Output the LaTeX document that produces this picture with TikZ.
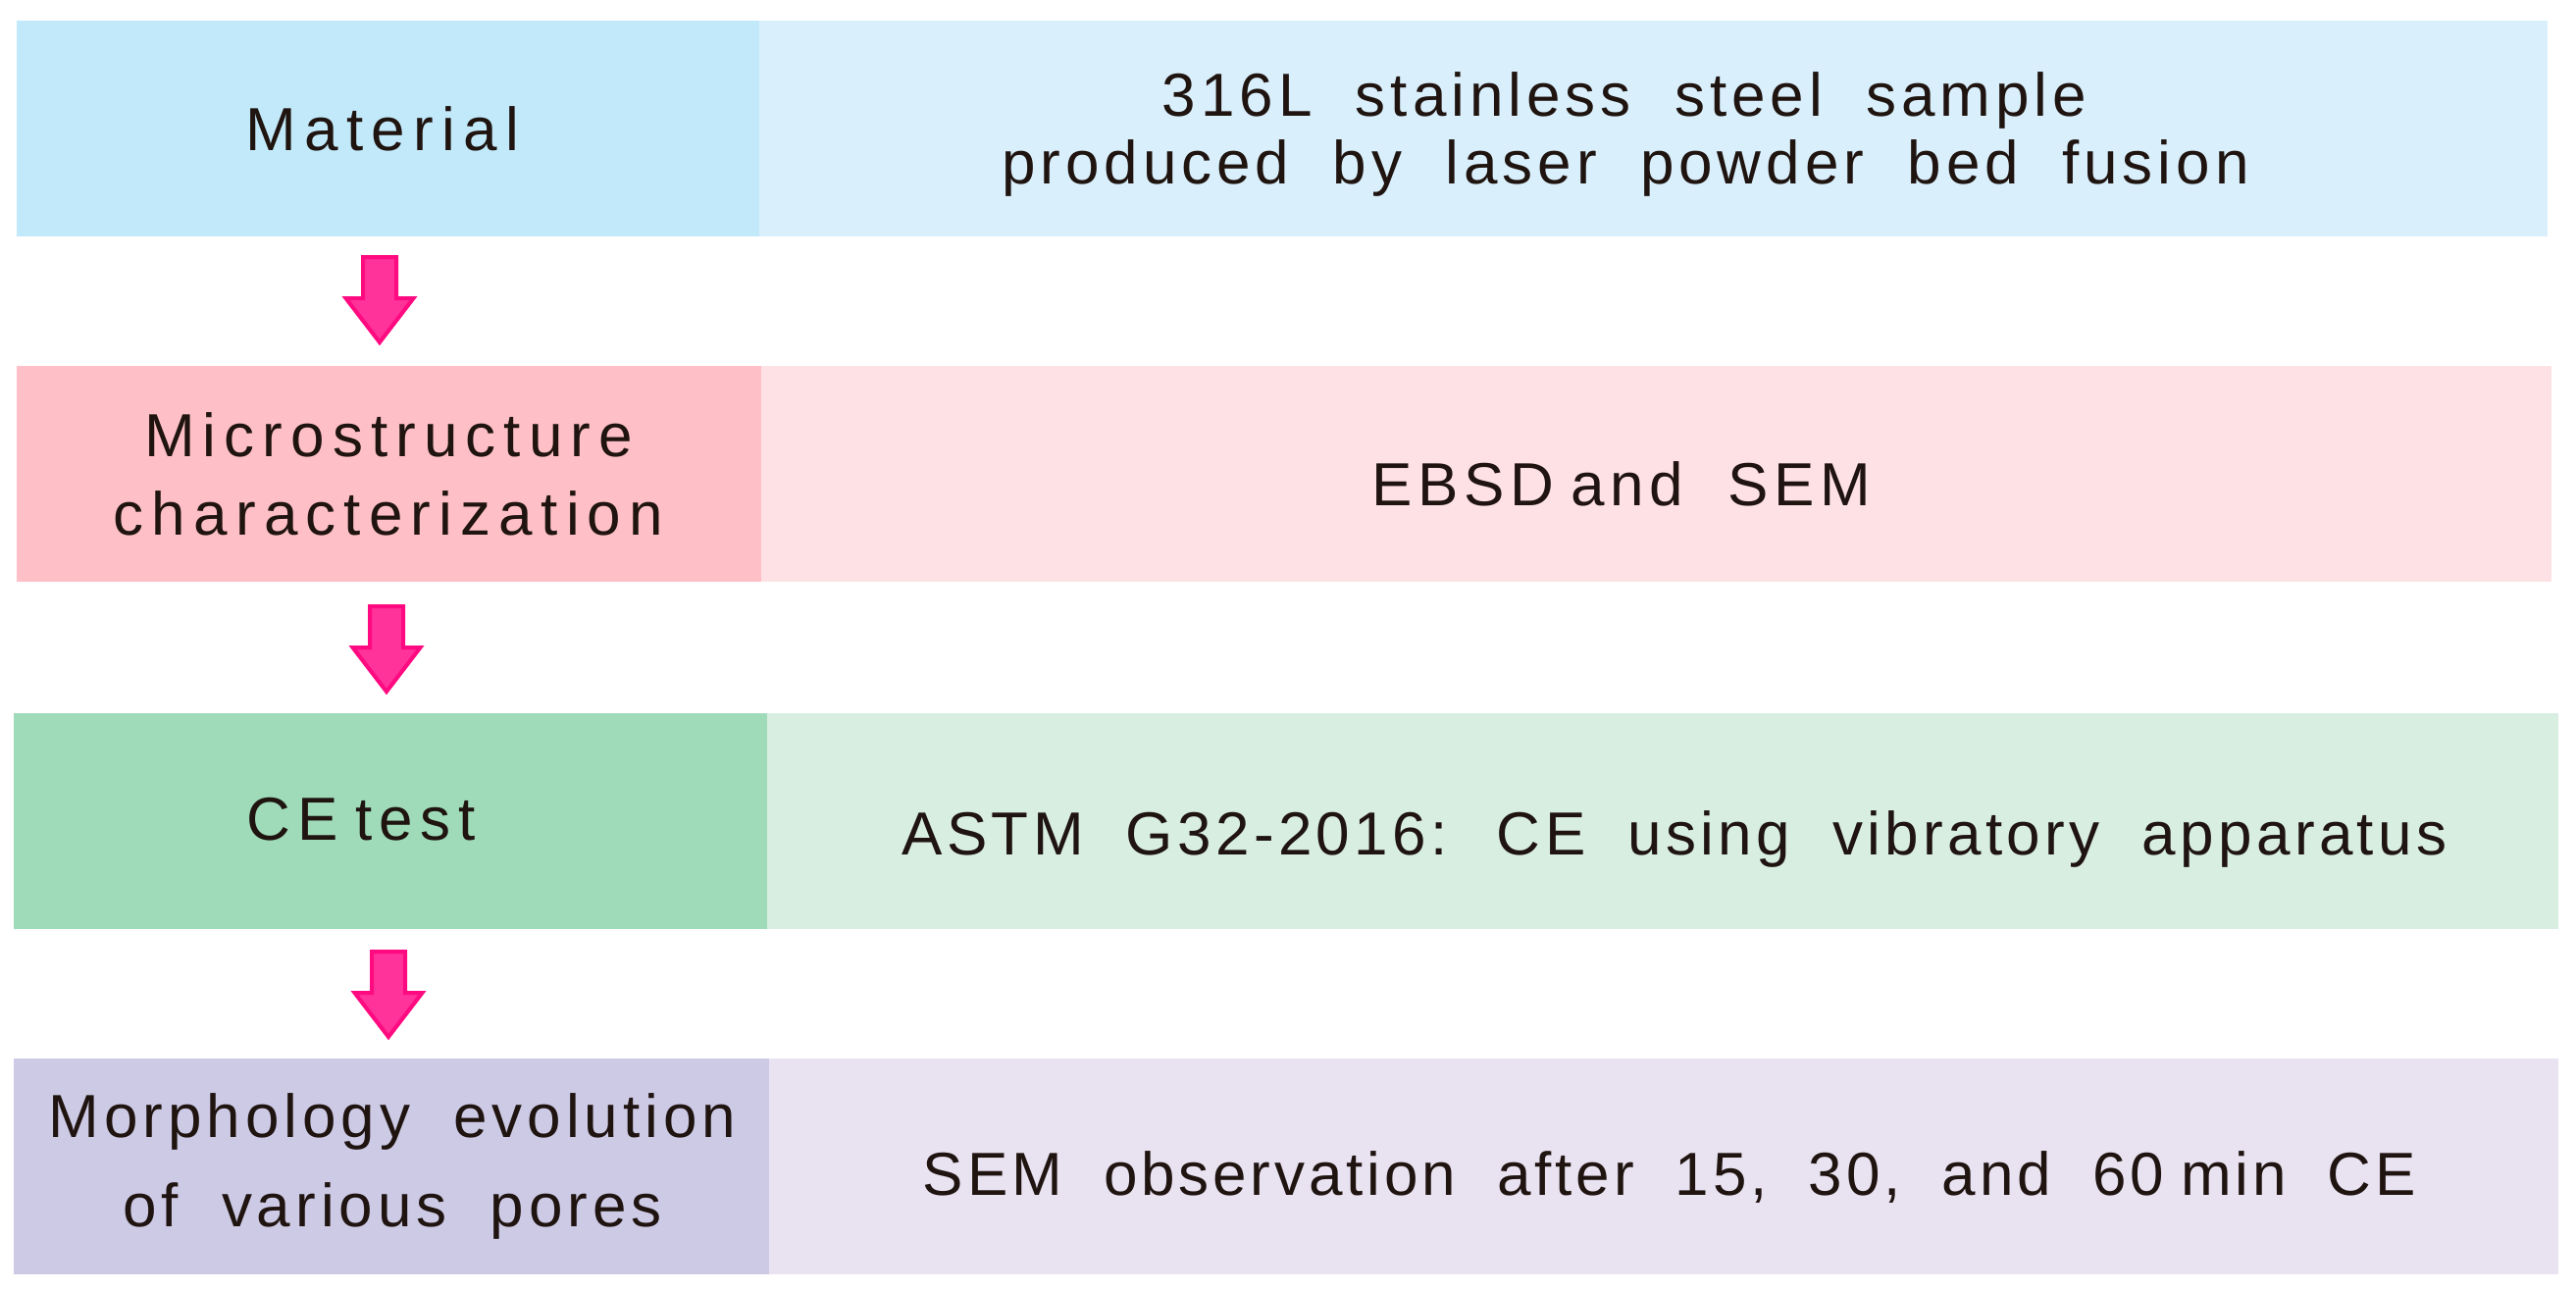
\documentclass[tikz,border=0pt]{standalone}
\usepackage{fontspec}
\setmainfont{Liberation Sans}[LetterSpace=8,WordSpace=2]
\usetikzlibrary{calc}
\definecolor{ink}{HTML}{1F1410}
\definecolor{blueL}{HTML}{C1E9F9}
\definecolor{blueR}{HTML}{D9EFFB}
\definecolor{pinkL}{HTML}{FEC0C6}
\definecolor{pinkR}{HTML}{FEE1E4}
\definecolor{greenL}{HTML}{9FDBB9}
\definecolor{greenR}{HTML}{D8EEE0}
\definecolor{lilacL}{HTML}{CDCAE6}
\definecolor{lilacR}{HTML}{E8E2F1}
\definecolor{arrowfill}{HTML}{FF3399}
\definecolor{arrowline}{HTML}{FF0A80}
\newcommand\ns{\hspace{0.28em}}
\begin{document}
\begin{tikzpicture}[x=1pt,y=-1pt,
  box/.style={rectangle, draw=none, inner sep=0pt, outer sep=0pt, anchor=north west, minimum height=220pt},
  txt/.style={font=\fontsize{62}{62}\selectfont, text=ink, inner sep=0pt, anchor=base},
  track/.style={font=\fontsize{62}{62}\selectfont\addfontfeatures{#1}},
  blockarrow/.style={fill=arrowfill, draw=arrowline, line width=4pt, line join=miter}]
\useasboundingbox[fill=white] (0,0) rectangle (2626,1315);
% row boxes
\node[box, fill=blueL,  minimum width=757pt]  (L1) at (17,21) {};
\node[box, fill=blueR,  minimum width=1823pt] (R1) at (774,21) {};
\node[box, fill=pinkL,  minimum width=759pt]  (L2) at (17,373) {};
\node[box, fill=pinkR,  minimum width=1825pt] (R2) at (776,373) {};
\node[box, fill=greenL, minimum width=768pt]  (L3) at (14,727) {};
\node[box, fill=greenR, minimum width=1826pt] (R3) at (782,727) {};
\node[box, fill=lilacL, minimum width=770pt]  (L4) at (14,1079) {};
\node[box, fill=lilacR, minimum width=1824pt] (R4) at (784,1079) {};
% texts
\node[txt, track={LetterSpace=13.5}] (t1) at (390,153) {Material};
\node[txt] (t1r1) at (1656,118) {316L stainless steel sample};
\node[txt] (t1r2) at (1657,187) {produced by laser powder bed fusion};
\node[txt, track={LetterSpace=13}] (t2a) at (396,465) {Microstructure};
\node[txt, track={LetterSpace=13.2}] (t2b) at (396,545) {characterization};
\node[txt, track={LetterSpace=9}] (t2r) at (1653,515) {EBSD\ns and SEM};
\node[txt, track={LetterSpace=12}] (t3) at (368,856) {CE\ns test};
\node[txt, track={LetterSpace=7}] (t3r) at (1707,871) {ASTM G32-2016: CE using vibratory apparatus};
\node[txt] (t4a) at (400,1159) {Morphology evolution};
\node[txt] (t4b) at (400,1250) {of various pores};
\node[txt, track={LetterSpace=6.2}] (t4r) at (1702,1218) {SEM observation after 15, 30, and 60\ns min CE};
% arrows between the left boxes
\coordinate (a1) at ($(L1.south west)+(370,21)$);
\coordinate (a2) at ($(L2.south west)+(377,25)$);
\coordinate (a3) at ($(L3.south west)+(382,23)$);
\foreach \a in {a1,a2,a3}{
  \draw[blockarrow, shift={(\a)}] (-17,0) -- (17,0) -- (17,42) -- (34.5,42) -- (0,87) -- (-34.5,42) -- (-17,42) -- cycle;
}
\end{tikzpicture}
\end{document}
